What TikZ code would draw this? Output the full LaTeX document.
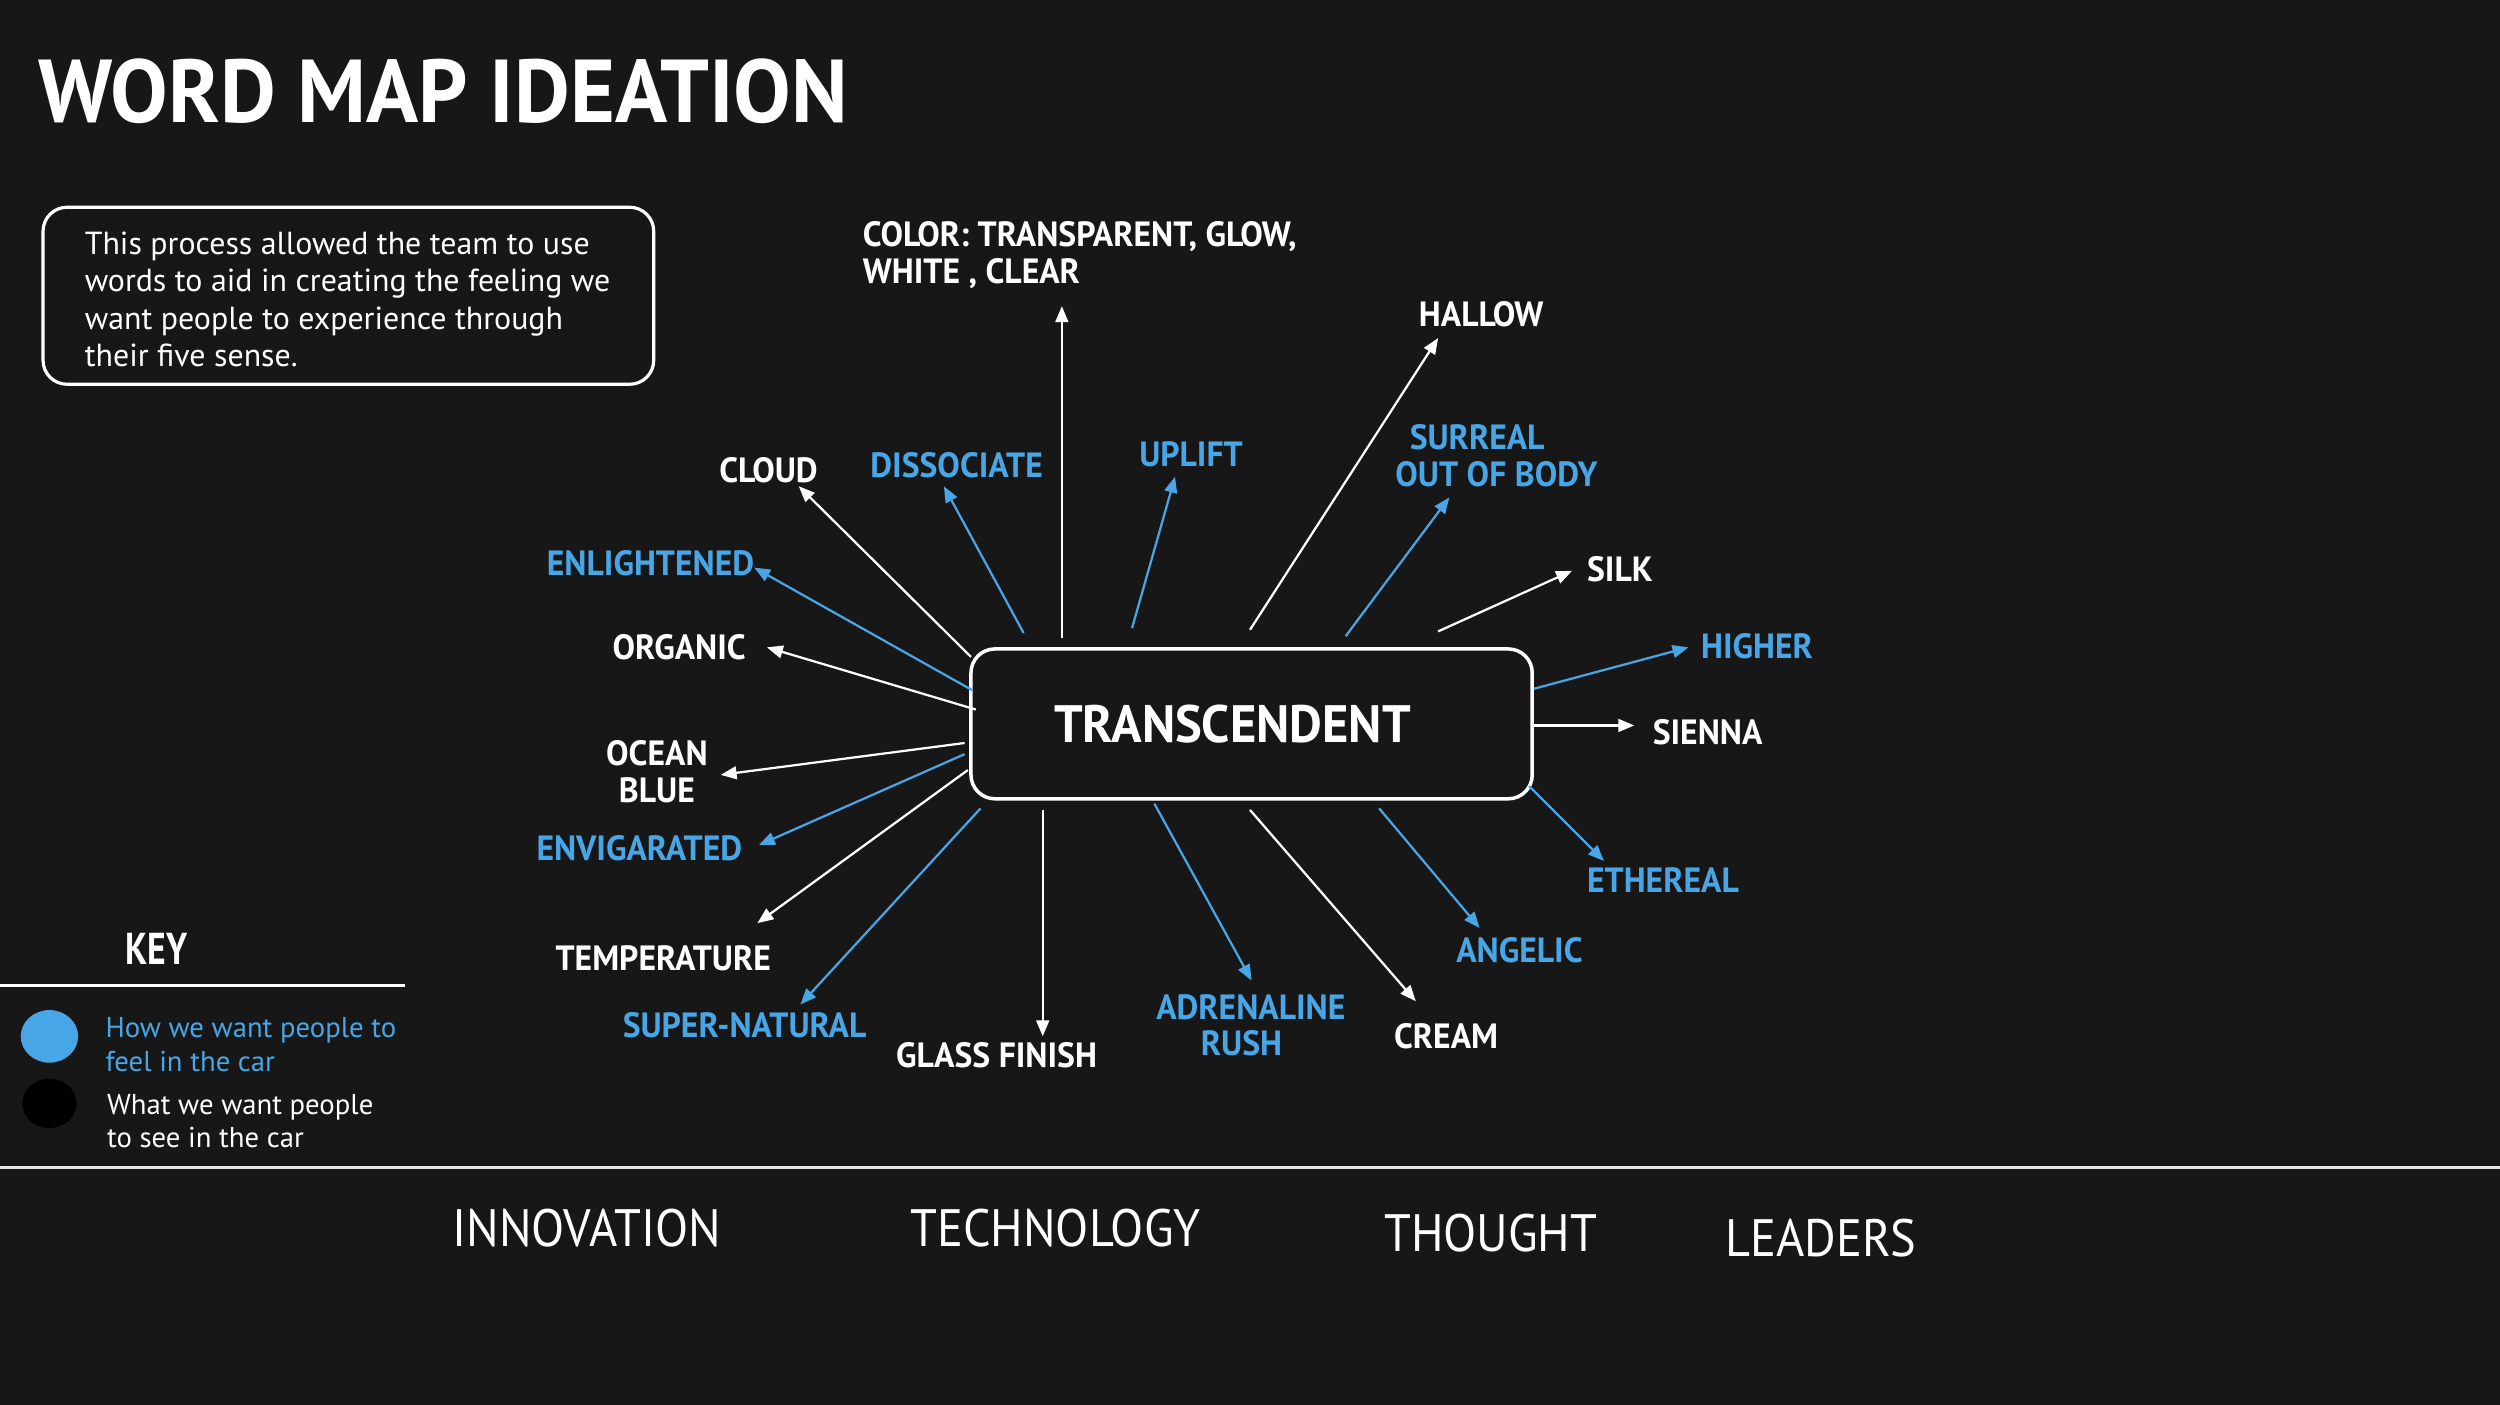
\documentclass[tikz,border=0pt]{standalone}
\usepackage{fontspec}
\setmainfont{PT Sans}
\newfontfamily\din[FakeStretch=0.96]{PT Sans}
\newfontfamily\dint[FakeStretch=0.965]{PT Sans}
\newfontfamily\dinc[FakeStretch=0.8]{PT Sans}
\newfontfamily\dinl[FakeStretch=0.92]{PT Sans}
\usetikzlibrary{arrows.meta,shapes.geometric}
\definecolor{bg}{HTML}{171717}
\definecolor{kblue}{HTML}{48A6E6}
\tikzset{
  lab/.style={font=\din\bfseries\fontsize{22}{23}\selectfont, align=center, inner sep=0pt},
  wl/.style={lab, text=white},
  bl/.style={lab, text=kblue},
  warr/.style={draw=white, line width=1.4pt, -{Triangle[length=10pt,width=8pt]}},
  barr/.style={draw=kblue, line width=1.4pt, -{Triangle[length=10pt,width=8pt]}},
  bottomword/.style={font=\dinl\fontsize{33}{36}\selectfont, text=white, inner sep=0pt, anchor=base},
  keydot/.style={ellipse, inner sep=0pt},
}
\begin{document}
\begin{tikzpicture}[x=1pt,y=-1pt]
\fill[bg] (0,0) rectangle (1568,881);
\useasboundingbox (0,0) rectangle (1568,881);

% title
\node[anchor=base west, inner sep=0pt, text=white, font=\dint\bfseries\fontsize{56}{60}\selectfont] (title) at (24,77) {WORD MAP IDEATION};

% description box
\node[draw=white, line width=2pt, rounded corners=15pt, minimum width=383pt, minimum height=111pt, anchor=north west] (desc) at (26,129) {};
\node[anchor=north west, inner sep=0pt, align=left, text=white, font=\fontsize{20}{23.5}\selectfont] (desctext) at (53,145) {This process allowed the team to use\\words to aid in creating the feeling we\\want people to experience through\\their five sense.};

% central node
\node[draw=white, line width=2.2pt, rounded corners=15pt, minimum width=352pt, minimum height=94pt, text=white, font=\din\bfseries\fontsize{33}{36}\selectfont] (T) at (785,454) {\raisebox{-2pt}{TRANSCENDENT}\hspace*{24pt}};

% labels
\node[wl, align=left, anchor=north west] (color) at (541,139) {COLOR: TRANSPARENT, GLOW,\\WHITE , CLEAR};
\node[wl] (hallow) at (929,197) {HALLOW};
\node[bl, align=left, anchor=west] (surreal) at (875,286) {\hspace*{9pt}SURREAL\\OUT OF BODY};
\node[wl] (silk) at (1016,357) {SILK};
\node[bl] (higher) at (1102,405) {HIGHER};
\node[wl] (sienna) at (1071,459) {SIENNA};
\node[bl] (ethereal) at (1043,552) {ETHEREAL};
\node[bl] (angelic) at (953,596) {ANGELIC};
\node[wl] (cream) at (907,650) {CREAM};
\node[bl, align=left, anchor=west] (adren) at (725,643) {ADRENALINE\\\hspace*{28pt}RUSH};
\node[wl] (glass) at (625,662) {GLASS FINISH};
\node[bl] (super) at (467,643) {SUPER-NATURAL};
\node[wl] (temp) at (416,601) {TEMPERATURE};
\node[bl] (envig) at (401,532) {ENVIGARATED};
\node[wl] (ocean) at (412,484) {OCEAN\\BLUE};
\node[wl] (organic) at (426,406) {ORGANIC};
\node[bl] (enlight) at (408,353) {ENLIGHTENED};
\node[wl] (cloud) at (482,295) {CLOUD};
\node[bl] (dissoc) at (600,292) {DISSOCIATE};
\node[bl] (uplift) at (747,285) {UPLIFT};

% connector ends
\coordinate (sColor) at (666,400);   \coordinate (eColor) at (666,192);
\coordinate (sHallow) at (784,395);  \coordinate (eHallow) at (902,212);
\coordinate (sSurreal) at (844,399); \coordinate (eSurreal) at (909,312);
\coordinate (sSilk) at (902,396);    \coordinate (eSilk) at (986,358);
\coordinate (sHigher) at (962,432);  \coordinate (eHigher) at (1059,406);
\coordinate (sSienna) at (962,455);  \coordinate (eSienna) at (1025,455);
\coordinate (sEther) at (959,493);   \coordinate (eEther) at (1006,540);
\coordinate (sAngel) at (865,507);   \coordinate (eAngel) at (928,582);
\coordinate (sCream) at (784,508);   \coordinate (eCream) at (888,628);
\coordinate (sAdren) at (724,504);   \coordinate (eAdren) at (785,615);
\coordinate (sGlass) at (654,508);   \coordinate (eGlass) at (654,650);
\coordinate (sSuper) at (615,507);   \coordinate (eSuper) at (502,630);
\coordinate (sTemp) at (607,483);    \coordinate (eTemp) at (475,579);
\coordinate (sEnvig) at (605,473);   \coordinate (eEnvig) at (476,530);
\coordinate (sOcean) at (605,466);   \coordinate (eOcean) at (452,486);
\coordinate (sOrg) at (612,445);     \coordinate (eOrg) at (481,406);
\coordinate (sEnl) at (610,433);     \coordinate (eEnl) at (473,356);
\coordinate (sCloud) at (609,412);   \coordinate (eCloud) at (501,305);
\coordinate (sDiss) at (642,397);    \coordinate (eDiss) at (592,305);
\coordinate (sUp) at (710,394);      \coordinate (eUp) at (737,299);

\draw[warr] (sColor) -- (eColor);
\draw[warr] (sHallow) -- (eHallow);
\draw[barr] (sSurreal) -- (eSurreal);
\draw[warr] (sSilk) -- (eSilk);
\draw[barr] (sHigher) -- (eHigher);
\draw[warr] (sSienna) -- (eSienna);
\draw[barr] (sEther) -- (eEther);
\draw[barr] (sAngel) -- (eAngel);
\draw[warr] (sCream) -- (eCream);
\draw[barr] (sAdren) -- (eAdren);
\draw[warr] (sGlass) -- (eGlass);
\draw[barr] (sSuper) -- (eSuper);
\draw[warr] (sTemp) -- (eTemp);
\draw[barr] (sEnvig) -- (eEnvig);
\draw[warr] (sOcean) -- (eOcean);
\draw[warr] (sOrg) -- (eOrg);
\draw[barr] (sEnl) -- (eEnl);
\draw[warr] (sCloud) -- (eCloud);
\draw[barr] (sDiss) -- (eDiss);
\draw[barr] (sUp) -- (eUp);

% key
\node[anchor=base, inner sep=0pt, text=white, font=\dinc\bfseries\fontsize{28}{30}\selectfont] (key) at (98,605) {KEY};
\coordinate (keyL) at (0,618); \coordinate (keyR) at (254,618);
\draw[white, line width=2.2pt] (keyL) -- (keyR);
\node[keydot, fill=kblue, minimum width=36pt, minimum height=33pt] (bdot) at (31,650) {};
\node[keydot, fill=black, minimum width=34pt, minimum height=31pt] (kdot) at (31,692) {};
\node[anchor=north west, inner sep=0pt, align=left, text=kblue, font=\fontsize{18}{21}\selectfont] (k1) at (66,638) {How we want people to\\feel in the car};
\node[anchor=north west, inner sep=0pt, align=left, text=white, font=\fontsize{18}{21}\selectfont] (k2) at (67,686) {What we want people\\to see in the car};

% divider
\coordinate (divL) at (0,732); \coordinate (divR) at (1568,732);
\draw[white!90!black, line width=2pt] (divL) -- (divR);

% bottom words
\node[bottomword] (w1) at (368,782) {INNOVATION};
\node[bottomword] (w2) at (662,782) {TECHNOLOGY};
\node[bottomword] (w3) at (935,785) {THOUGHT};
\node[bottomword] (w4) at (1142,788) {LEADERS};
\end{tikzpicture}
\end{document}
